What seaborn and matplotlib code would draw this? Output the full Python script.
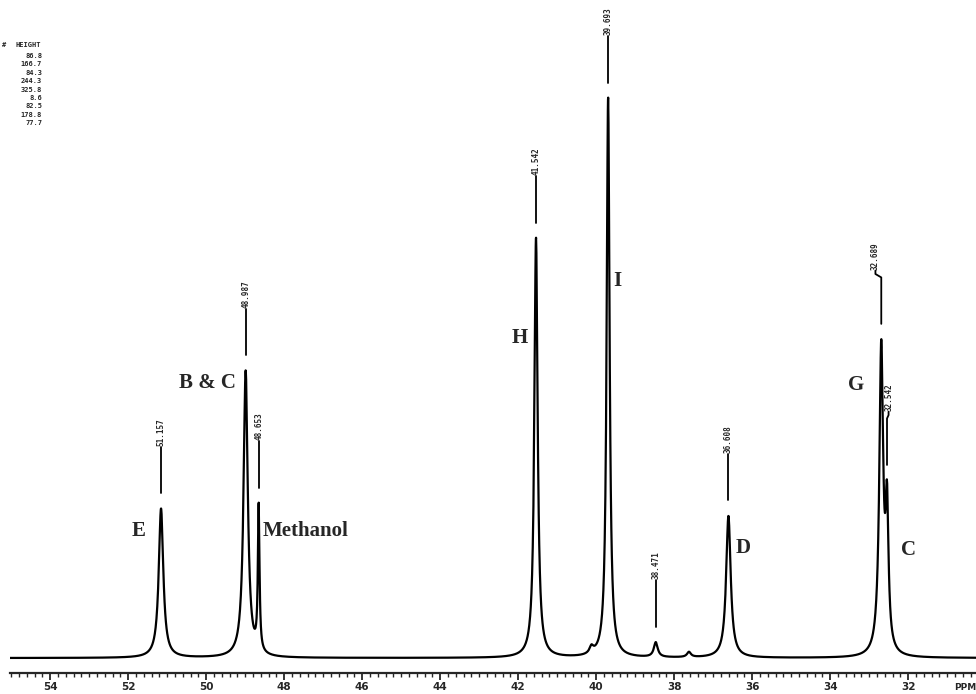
import numpy as np
import pandas as pd
import matplotlib.pyplot as plt
import seaborn as sns

# peak list as printed on the spectrum (ppm, height)
shifts = [51.157, 48.987, 48.653, 41.542, 39.693, 38.471, 36.608, 32.689, 32.542]
heights = [86.8, 166.7, 84.3, 244.3, 325.8, 8.6, 82.5, 178.8, 77.7]
hwhm = [0.07, 0.065, 0.025, 0.05, 0.045, 0.06, 0.07, 0.06, 0.045]

# small unlabelled bumps on the baseline
extra_shifts = [40.12, 37.62]
extra_heights = [4.0, 3.0]

# assignments written on the plot
assign_text = ['E', 'B & C', 'Methanol', 'H', 'I', 'D', 'G', 'C']
assign_pos = [(51.74, 74), (49.97, 160), (48.54, 74), (41.95, 186),
              (39.46, 219), (36.23, 64), (33.33, 159), (32.0, 63)]
assign_ha = ['center', 'center', 'left', 'center', 'center', 'center', 'center', 'center']

ppm = np.linspace(30.0, 55.5, 6000)
signal = np.zeros_like(ppm)
for c, h, w in zip(shifts + extra_shifts, heights + extra_heights, hwhm + [0.06, 0.06]):
    signal += h / (1 + ((ppm - c) / w) ** 2)
spec = pd.DataFrame({'ppm': ppm, 'intensity': signal})

sns.set_style('white')
fig = plt.figure(figsize=(9.76, 6.94), dpi=100)
ax = fig.add_axes([10 / 976, 21 / 694, 966 / 976, 673 / 694])

sns.lineplot(data=spec, x='ppm', y='intensity', color='black', lw=1.6, ax=ax)

ax.set_xlim(55.03, 30.26)
ax.set_ylim(-8.7, 382.6)
for s in ['top', 'left', 'right']:
    ax.spines[s].set_visible(False)
ax.spines['bottom'].set_linewidth(1.6)
ax.set_yticks([])
ax.set_xlabel('')
ax.set_ylabel('')
ax.set_xticks(np.arange(32, 56, 2))
ax.set_xticks(np.arange(30.4, 55.1, 0.2), minor=True)
ax.tick_params(axis='x', which='both', bottom=True, direction='out')
ax.tick_params(axis='x', which='major', length=5, width=1.3, pad=1.5, labelsize=7.5)
ax.tick_params(axis='x', which='minor', length=3, width=1.0)
for lab in ax.get_xticklabels():
    lab.set_fontweight('bold')
ax.text(1.0, -0.022, 'PPM', transform=ax.transAxes, fontsize=6.5, fontweight='bold',
        ha='right', va='center', clip_on=False)

# peak markers with the shift value above them
jog = {32.689: 0.15, 32.542: -0.04}
for c in shifts:
    top = np.interp(c, ppm, signal)
    y0, y1 = top + 9, top + 36
    xt = c + jog.get(c, 0)
    if c in jog:
        ax.plot([c, c, xt, xt], [y0, y1, y1 + 2, y1 + 4], color='black', lw=1.3)
        y1 += 4
    else:
        ax.plot([c, c], [y0, y1], color='black', lw=1.3)
    ax.text(xt, y1 + 0.5, f'{c:.3f}', rotation=90, ha='center', va='bottom',
            fontsize=5.5, fontweight='bold', family='DejaVu Sans Mono')

for t, (x, y), ha in zip(assign_text, assign_pos, assign_ha):
    ax.text(x, y, t, ha=ha, va='center', fontsize=15, fontweight='bold',
            family='Liberation Serif')

# height table in the corner
fig.text(2 / 976, 1 - 45 / 694, '#', fontsize=5, fontweight='bold', family='DejaVu Sans Mono',
         va='center')
fig.text(15 / 976, 1 - 45 / 694, 'HEIGHT', fontsize=5, fontweight='bold',
         family='DejaVu Sans Mono', va='center')
for i, h in enumerate(heights):
    fig.text(42 / 976, 1 - (56 + i * 8.4) / 694, f'{h:.1f}', fontsize=5, fontweight='bold',
             family='DejaVu Sans Mono', ha='right', va='center')

fig.savefig('out.png', dpi=100)
